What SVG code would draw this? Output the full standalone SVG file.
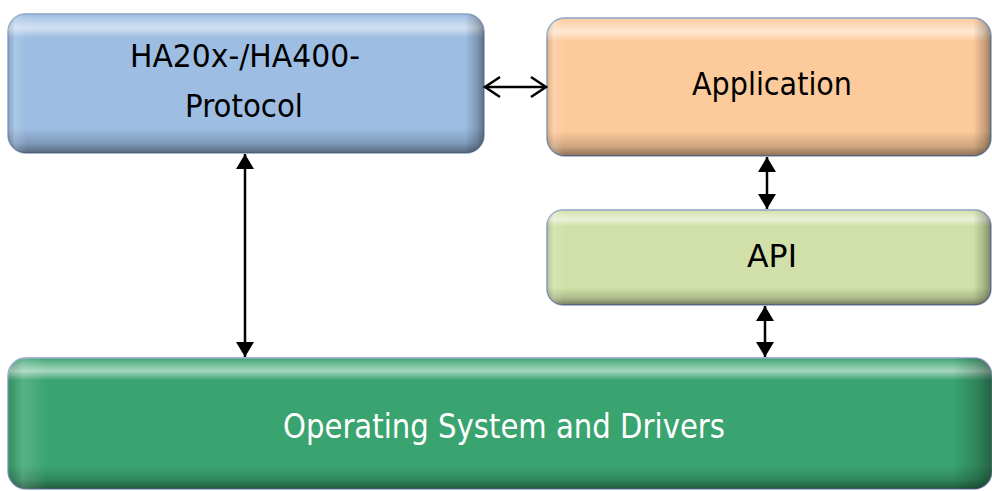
<svg xmlns="http://www.w3.org/2000/svg" width="992" height="491" viewBox="0 0 992 491">
<style>
.lbl{font-family:"DejaVu Sans","Verdana",sans-serif;font-size:32px;text-anchor:middle;fill:#000}
.wlbl{font-family:"DejaVu Sans","Verdana",sans-serif;font-size:34px;text-anchor:middle;fill:#fff}
.box{stroke:#8aa3c6;stroke-width:1.5}
.conn{stroke:#000;stroke-width:2.5;fill:none}
</style>
<defs>
<linearGradient id="vshade" x1="0" y1="0" x2="0" y2="1">
<stop offset="0" stop-color="#fff" stop-opacity="0"/>
<stop offset="0.04" stop-color="#fff" stop-opacity="0.25"/>
<stop offset="0.1" stop-color="#fff" stop-opacity="0.55"/>
<stop offset="0.17" stop-color="#fff" stop-opacity="0"/>
<stop offset="0.82" stop-color="#000" stop-opacity="0"/>
<stop offset="0.93" stop-color="#000" stop-opacity="0.18"/>
<stop offset="1" stop-color="#000" stop-opacity="0.45"/>
</linearGradient>
<linearGradient id="hshade" x1="0" y1="0" x2="1" y2="0">
<stop offset="0" stop-color="#000" stop-opacity="0.12"/>
<stop offset="0.015" stop-color="#fff" stop-opacity="0.15"/>
<stop offset="0.04" stop-color="#fff" stop-opacity="0"/>
<stop offset="0.96" stop-color="#000" stop-opacity="0"/>
<stop offset="0.985" stop-color="#000" stop-opacity="0.2"/>
<stop offset="1" stop-color="#000" stop-opacity="0.4"/>
</linearGradient>
<marker id="tri" markerUnits="userSpaceOnUse" markerWidth="16" markerHeight="20" refX="15" refY="9" orient="auto-start-reverse" viewBox="0 0 16 18">
<path d="M0,0 L15,9 L0,18 z" fill="#000"/>
</marker>
<marker id="vee" markerUnits="userSpaceOnUse" markerWidth="20" markerHeight="24" refX="17" refY="11" orient="auto-start-reverse" viewBox="0 0 20 22">
<path d="M2,1 L17,11 L2,21" fill="none" stroke="#000" stroke-width="2.5"/>
</marker>
</defs>
<g id="protocol">
<rect class="box" x="8" y="14" width="476" height="139" rx="18" fill="#9dbde3"/>
<rect x="8" y="14" width="476" height="139" rx="18" fill="url(#vshade)"/>
<rect x="8" y="14" width="476" height="139" rx="18" fill="url(#hshade)"/>
<text class="lbl" x="245" y="67" textLength="230" lengthAdjust="spacingAndGlyphs">HA20x-/HA400-</text>
<text class="lbl" x="244" y="117" textLength="118" lengthAdjust="spacingAndGlyphs">Protocol</text>
</g>
<g id="application">
<rect class="box" x="547" y="18" width="444" height="138" rx="18" fill="#fdca9b"/>
<rect x="547" y="18" width="444" height="138" rx="18" fill="url(#vshade)"/>
<rect x="547" y="18" width="444" height="138" rx="18" fill="url(#hshade)"/>
<text class="lbl" x="772" y="95" textLength="160" lengthAdjust="spacingAndGlyphs">Application</text>
</g>
<g id="api">
<rect class="box" x="547" y="210" width="444" height="95" rx="16" fill="#d1e0a8"/>
<rect x="547" y="210" width="444" height="95" rx="16" fill="url(#vshade)"/>
<rect x="547" y="210" width="444" height="95" rx="16" fill="url(#hshade)"/>
<text class="lbl" x="772" y="267" textLength="50" lengthAdjust="spacingAndGlyphs">API</text>
</g>
<g id="os">
<rect class="box" x="8" y="358" width="984" height="131" rx="18" fill="#3aa470"/>
<rect x="8" y="358" width="984" height="131" rx="18" fill="url(#vshade)"/>
<rect x="8" y="358" width="984" height="131" rx="18" fill="url(#hshade)"/>
<text class="wlbl" x="504" y="438" textLength="442" lengthAdjust="spacingAndGlyphs">Operating System and Drivers</text>
</g>
<g id="connectors">
<line class="conn" x1="245" y1="154" x2="245" y2="357" marker-start="url(#tri)" marker-end="url(#tri)"/>
<line class="conn" x1="767" y1="157" x2="767" y2="209" marker-start="url(#tri)" marker-end="url(#tri)"/>
<line class="conn" x1="765" y1="306" x2="765" y2="357" marker-start="url(#tri)" marker-end="url(#tri)"/>
<line class="conn" x1="485" y1="87" x2="546" y2="87" marker-start="url(#vee)" marker-end="url(#vee)"/>
</g>
</svg>
